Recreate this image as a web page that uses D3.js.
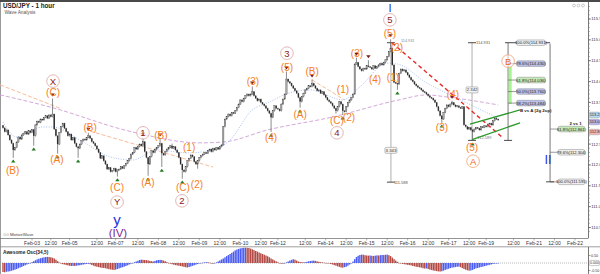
<!DOCTYPE html>
<html><head><meta charset="utf-8">
<script src="https://cdn.jsdelivr.net/npm/d3@7"></script>
<style>body{margin:0;background:#fff;overflow:hidden}svg{display:block;font-family:"Liberation Sans",Arial,sans-serif}</style>
</head><body><svg id="c" width="600" height="274"></svg>
<script>
// ---------- DATA ----------
const firstOpen = 112.95;
const closes = [
112.89,112.80,112.84,112.72,112.60,112.52,112.36,112.42,112.55,112.67,112.62,112.72,
112.76,112.80,112.74,112.82,112.78,112.85,112.70,112.96,113.05,113.02,113.10,113.08,
113.14,113.18,113.12,113.20,113.16,113.22,112.86,112.70,112.50,112.78,112.92,113.00,
112.88,112.80,112.70,112.74,112.60,112.66,112.52,112.44,112.40,112.50,112.58,112.62,
112.60,112.66,112.70,112.64,112.56,112.52,112.46,112.38,112.30,112.16,112.22,112.10,
112.02,111.90,111.94,111.84,111.86,111.92,111.84,111.88,111.90,111.96,111.92,111.98,
112.04,112.10,112.16,112.26,112.30,112.42,112.38,112.44,112.50,112.46,112.56,112.32,
112.18,112.02,112.20,112.34,112.30,112.38,112.42,112.46,112.52,112.28,112.24,112.32,
112.38,112.42,112.46,112.40,112.44,112.36,112.30,112.18,112.02,111.88,111.84,111.96,
112.10,112.16,112.24,112.20,112.08,112.02,112.10,112.18,112.22,112.26,112.30,112.28,
112.34,112.38,112.32,112.40,112.36,112.42,112.38,112.44,112.48,112.92,113.10,113.16,
113.22,113.18,113.26,113.24,113.30,113.38,113.46,113.56,113.52,113.60,113.66,113.70,
113.66,113.70,113.76,113.66,113.60,113.54,113.58,113.50,113.46,113.42,113.36,113.30,
113.24,113.14,113.30,113.42,113.36,113.34,113.30,113.46,113.58,113.70,114.06,114.00,
113.96,113.90,113.84,113.78,113.72,113.62,113.52,113.64,113.72,113.80,113.84,113.90,
113.88,113.96,113.90,113.84,113.78,113.80,113.72,113.76,113.68,113.62,113.56,113.52,
113.48,113.42,113.36,113.30,113.40,113.52,113.46,113.30,113.28,113.40,113.50,113.56,
113.62,113.70,114.42,114.46,114.36,114.30,114.26,114.32,114.30,114.38,114.36,114.34,
114.30,114.38,114.32,114.36,114.40,114.44,114.40,114.46,114.52,114.60,114.72,114.80,
114.40,113.98,113.96,113.94,114.20,114.30,114.26,114.28,114.22,114.16,114.10,114.04,
114.00,113.94,113.90,113.86,113.84,113.80,113.76,113.74,113.70,113.66,113.62,113.60,
113.56,113.50,113.40,113.30,113.18,113.10,113.26,113.36,113.44,113.40,113.46,113.50,
113.44,113.40,113.42,113.38,113.36,113.40,112.96,112.92,112.86,112.90,112.84,112.80,
112.86,112.90,112.88,112.84,112.92,112.90,112.94,112.92,112.98,113.00,112.96,113.06,113.12,113.10,113.08
];
// [bar, high wick, low wick]
const wicks = [[6,null,112.19],[18,null,112.48],[29,113.58,null],[32,null,112.29],[44,null,112.19],[50,112.76,null],
[67,null,111.74],[82,112.64,null],[85,null,111.76],[92,112.62,null],[93,null,111.97],[99,112.50,null],[105,null,111.69],
[114,null,111.93],[146,113.87,null],[157,null,112.81],[166,114.23,null],[174,null,113.39],[181,114.04,null],[195,null,113.25],
[199,null,113.22],[207,114.56,null],[214,114.50,null],[227,115.00,null],[231,null,113.82],[257,null,113.03],[263,113.53,null],[275,null,112.60]];
const pivotLows = [6,18,32,44,67,85,93,105,157,174,199,231,257,275];
const pivotHighs = [29,50,82,92,146,166,181,207,214,227,263];

const aoValues = [
-0.60,-0.62,-0.58,-0.57,-0.55,-0.52,-0.48,-0.45,-0.40,-0.35,-0.30,-0.26,
-0.20,-0.15,-0.10,-0.05,0.00,0.06,0.12,0.18,0.24,0.28,0.32,0.35,
0.38,0.40,0.41,0.40,0.38,0.35,0.30,0.22,0.12,0.03,-0.04,-0.08,
-0.10,-0.13,-0.16,-0.18,-0.20,-0.19,-0.20,-0.18,-0.16,-0.15,-0.12,-0.10,
-0.08,-0.06,-0.05,-0.08,-0.13,-0.18,-0.22,-0.25,-0.27,-0.30,-0.32,-0.33,
-0.35,-0.38,-0.41,-0.43,-0.45,-0.46,-0.44,-0.40,-0.36,-0.32,-0.28,-0.24,
-0.20,-0.15,-0.10,-0.05,0.00,0.05,0.10,0.15,0.20,0.22,0.21,0.20,
0.19,0.17,0.14,0.12,0.10,0.14,0.18,0.20,0.21,0.20,0.16,0.12,
0.06,0.01,-0.04,-0.08,-0.11,-0.14,-0.16,-0.18,-0.20,-0.23,-0.26,-0.28,
-0.30,-0.27,-0.23,-0.19,-0.15,-0.11,-0.07,-0.03,0.00,0.02,0.04,0.05,
0.05,0.02,-0.02,-0.05,-0.01,0.04,0.10,0.17,0.24,0.30,0.38,0.46,
0.53,0.60,0.68,0.76,0.84,0.90,0.94,0.97,1.00,1.01,1.02,1.01,
1.00,0.96,0.91,0.86,0.80,0.76,0.70,0.65,0.60,0.55,0.50,0.45,
0.38,0.30,0.24,0.17,0.11,0.05,0.00,-0.04,-0.05,-0.02,0.04,0.10,
0.16,0.21,0.25,0.22,0.16,0.10,0.07,0.05,0.04,0.05,0.08,0.11,
0.13,0.15,0.16,0.14,0.11,0.08,0.05,0.04,0.02,0.01,0.00,-0.03,
-0.07,-0.10,-0.14,-0.18,-0.22,-0.26,-0.30,-0.31,-0.28,-0.25,-0.18,-0.10,
-0.02,0.10,0.26,0.40,0.48,0.53,0.56,0.55,0.52,0.50,0.49,0.50,
0.48,0.47,0.49,0.51,0.50,0.52,0.54,0.53,0.55,0.56,0.52,0.46,
0.36,0.26,0.16,0.08,0.01,-0.03,-0.06,-0.08,-0.10,-0.12,-0.14,-0.16,
-0.20,-0.22,-0.25,-0.27,-0.29,-0.31,-0.35,-0.37,-0.36,-0.40,-0.44,-0.47,
-0.50,-0.52,-0.54,-0.56,-0.57,-0.55,-0.51,-0.46,-0.42,-0.38,-0.34,-0.31,
-0.29,-0.27,-0.25,-0.24,-0.28,-0.34,-0.40,-0.45,-0.49,-0.51,-0.50,-0.46,
-0.41,-0.36,-0.33,-0.30,-0.27,-0.24,-0.21,-0.18,-0.15,-0.12,-0.09,-0.06,-0.04,-0.02,-0.01
];

const tickIdx = [17,28,39,55,66,79,91,103,115,127,139,151,161,177,189,201,213,225,237,249,261,273,283,299,311,323,335];
const tickLabels = ["Feb-03","12:00","Feb-05","12:00","Feb-07","12:00","Feb-08","12:00","Feb-09","12:00","Feb-10","12:00",
"Feb-12","12:00","Feb-14","12:00","Feb-15","12:00","Feb-16","12:00","Feb-17","12:00","Feb-19","12:00","Feb-21","12:00","Feb-22"];
const priceTicks = [110.5,111.0,111.5,112.0,112.5,113.0,113.5,114.0,114.5,115.0,115.5];
const aoTicks = [0.5,-0.5];

// moving averages (vertices)
const blueMaIdx = [0,8,23,29,47,63,76,90,108,123,133,146,155,168,180,199,209,225,231,248,268,290];
const blueMaVal = [113.03,112.67,112.91,112.91,112.55,112.19,112.12,112.36,112.29,112.36,112.60,113.32,113.49,113.73,113.80,113.56,113.87,114.44,114.42,113.97,113.56,113.12];
const purpleMaIdx = [-1.7,27.5,76,115,129,155,193,232,248,260,290];
const purpleMaVal = [113.68,113.39,112.79,112.53,112.55,112.84,113.15,113.56,113.68,113.63,113.44];
const peachLines = [[[-1.7,113.92],[34,113.35]],[[51,112.81],[123,111.95]],[[181,114.04],[200,113.56]]];

// wave labels
const waveText  = ["(B)","(C)","X","(A)","(B)","(C)","Y","y","(IV)","1","(A)","(B)","(1)","(C)","(2)","2","(3)","(4)","(5)","3","(A)","(B)","(1)","(C)","(2)","4","(3)","(4)","(5)","5","I","(1)","(2)","(3)","(4)","(5)","A","B","II"];
const waveIdx   = [5.6,29.3,29.3,31.6,51,66.8,66.8,66.8,67.3,82,84.9,92.5,109,105.4,113.6,104.8,146.4,157,166.3,166.3,174,181,199.1,195.6,202.6,195.6,207.3,217.9,226.6,226.6,226.6,228.4,230.7,257.1,263.5,274.7,275.3,295.8,319.2];
const wavePrice = [111.88,113.73,114.01,112.14,112.91,111.45,111.11,110.70,110.37,112.77,111.59,112.72,112.41,111.45,111.54,111.14,114.01,112.65,114.35,114.68,113.22,114.25,113.80,113.08,113.13,112.77,114.68,114.04,115.16,115.48,115.76,114.11,114.83,112.89,113.68,112.43,112.09,114.49,112.12];
const waveKind  = ["o","o","c","o","o","o","c","blue","purple","c","o","o","o","o","o","c","o","o","o","c","o","o","o","o","o","c","o","o","o","c","blue1","o","o","o","o","o","oc","oc","blue2"];

// fibonacci & measures
const fibUpperHi = 114.931, fibUpperLo = 112.589;
const fibUpperRatios = [1.0,0.786,0.618,0.5,0.382];
const fibUpperFill = ["#efefef","#b9c1ec","#c3e9b6","#b9c1ec","#b9c1ec"];
const fibLowerStart = 114.909, fibLowerEnd = 111.595;
const fibLowerRatios = [0.618,0.786,1.0];
const fibLowerFill = ["#c3e9b6","#eeeeee","#eeeeee"];
const redLine = [[227.8,114.93],[292.8,112.65]];
const greenLines = [[[273.5,112.98],[302.8,113.32]],[[274.7,112.61],[302.8,113.01]]];
const priceTags = [[113.20,"113.2","#b4dcf6"],[113.03,"113.0","#b8b4f0"],[112.79,"112.8","#f2b8b8"]];

// ---------- DRAW ----------
const svg = d3.select("#c");
const x = d3.scaleLinear().domain([0,335]).range([3,575]);
const y = d3.scaleLinear().domain([110.5,115.5]).range([227.5,19]);
const yAo = d3.scaleLinear().domain([-0.5,0.5]).range([270.5,255.5]);
const AXR = 588.5;

// frame
svg.append("rect").attr("x",0).attr("y",0).attr("width",600).attr("height",274).attr("fill","#fff");
svg.append("rect").attr("x",0).attr("y",0).attr("width",600).attr("height",2).attr("fill","#4a4a4a");
svg.append("line").attr("x1",0.5).attr("x2",0.5).attr("y1",2).attr("y2",274).attr("stroke","#999");

const plot = svg.append("g");
const line = d3.line().x(d=>x(d[0])).y(d=>y(d[1]));

// MAs
plot.append("path").attr("d",d3.line().curve(d3.curveMonotoneX).x(d=>x(d[0])).y(d=>y(d[1]))(purpleMaIdx.map((v,k)=>[v,purpleMaVal[k]])))
  .attr("fill","none").attr("stroke","#d3a9d9").attr("stroke-width",1).attr("stroke-dasharray","4,2");
peachLines.forEach(s=>plot.append("path").attr("d",line(s)).attr("fill","none").attr("stroke","#f7bc98").attr("stroke-width",1).attr("stroke-dasharray","4,2"));
plot.append("path").attr("d",d3.line().curve(d3.curveMonotoneX).x(d=>x(d[0])).y(d=>y(d[1]))(blueMaIdx.map((v,k)=>[v,blueMaVal[k]])))
  .attr("fill","none").attr("stroke","#9cb8f2").attr("stroke-width",0.9).attr("stroke-dasharray","1,1.5");

// measure lines
function vmeasure(i,p1,p2,boxText,boxP){
  plot.append("line").attr("x1",x(i)).attr("x2",x(i)).attr("y1",y(p1)).attr("y2",y(p2)).attr("stroke","#9a9a9a").attr("stroke-width",0.8);
  [p1,p2].forEach(p=>plot.append("line").attr("x1",x(i)-4).attr("x2",x(i)+4).attr("y1",y(p)).attr("y2",y(p)).attr("stroke","#333").attr("stroke-width",0.9));
  if(boxText){
    const g=plot.append("g").attr("transform",`translate(${x(i)},${y(boxP)})`);
    g.append("rect").attr("x",-6).attr("y",-3).attr("width",12).attr("height",6).attr("rx",1).attr("fill","#f4f4f4").attr("stroke","#888").attr("stroke-width",0.5);
    g.append("text").attr("text-anchor","middle").attr("dy","0.35em").attr("font-size",4.3).attr("fill","#333").text(boxText);
  }
}
vmeasure(227.2,114.931,111.588,(114.931-111.588).toFixed(3),112.35);
vmeasure(274.7,114.931,112.589,(114.931-112.589).toFixed(3),113.80);
plot.append("text").attr("x",x(227.2)+3).attr("y",y(111.588)).attr("dy","0.35em").attr("font-size",4).attr("fill","#555").text("111.588");
plot.append("text").attr("x",x(274.7)+4).attr("y",y(114.931)).attr("dy","0.35em").attr("font-size",4).attr("fill","#555").text("114.931");
plot.append("text").attr("x",x(232.5)+1).attr("y",y(114.98)).attr("dy","0.35em").attr("font-size",3.8).attr("fill","#888").text("114.931");
plot.append("text").attr("x",x(276)+3).attr("y",y(112.65)).attr("dy","0.35em").attr("font-size",4).attr("fill","#777").text("112.589");

// candles
const opens = closes.map((c,i)=> i===0 ? firstOpen : closes[i-1]);
const highs = closes.map((c,i)=>Math.max(c,opens[i]));
const lows = closes.map((c,i)=>Math.min(c,opens[i]));
wicks.forEach(([i,h,l])=>{ if(h!=null) highs[i]=h; if(l!=null) lows[i]=l; });
const cg = plot.append("g");
closes.forEach((c,i)=>{
  const o=opens[i], up=c>=o;
  cg.append("line").attr("x1",x(i)).attr("x2",x(i)).attr("y1",y(highs[i])-0.5).attr("y2",y(lows[i])+0.8).attr("stroke","#5a5a5a").attr("stroke-width",0.7);
  const t=y(Math.max(o,c)), b=y(Math.min(o,c));
  cg.append("rect").attr("x",x(i)-0.7).attr("y",t).attr("width",1.4).attr("height",Math.max(1,b-t))
    .attr("fill",up?"#a8a8a8":"#2a2a2a").attr("stroke",up?"#444":"none").attr("stroke-width",0.3);
});

// pivot markers
pivotLows.forEach(i=>{const cx=x(i),cy=y(lows[i])+2.5;
  plot.append("path").attr("d",`M${cx},${cy} L${cx-2.2},${cy+3} L${cx+2.2},${cy+3}Z`).attr("fill","#237a23");});
pivotHighs.forEach(i=>{const cx=x(i),cy=y(highs[i])-2.5;
  plot.append("path").attr("d",`M${cx},${cy} L${cx-2.2},${cy-3} L${cx+2.2},${cy-3}Z`).attr("fill","#7a1e1e");});

// red dashed + green channel
plot.append("path").attr("d",line(redLine)).attr("stroke","#e62a2a").attr("stroke-width",1.4).attr("stroke-dasharray","4,3").attr("fill","none");
greenLines.forEach(s=>plot.append("path").attr("d",line(s)).attr("stroke","#2a9a2a").attr("stroke-width",1.3).attr("fill","none"));

// fib upper
const fuX = 295.8, fuBoxX = 309.2;
plot.append("line").attr("x1",x(294)).attr("x2",x(320.4)).attr("y1",y(fibUpperHi)).attr("y2",y(fibUpperHi)).attr("stroke","#333").attr("stroke-width",0.9);
plot.append("line").attr("x1",x(fuX)).attr("x2",x(fuX)).attr("y1",y(fibUpperHi)).attr("y2",y(fibUpperLo)).attr("stroke","#555").attr("stroke-width",0.8);
plot.append("line").attr("x1",x(fuX)-4).attr("x2",x(fuX)+4).attr("y1",y(fibUpperLo)).attr("y2",y(fibUpperLo)).attr("stroke","#333").attr("stroke-width",0.9);
plot.append("rect").attr("x",x(fuX)+0.6).attr("y",y(114.35)).attr("width",3).attr("height",y(113.46)-y(114.35)).attr("fill","#a6f58f");
fibUpperRatios.forEach((r,k)=>{
  const p=fibUpperLo+r*(fibUpperHi-fibUpperLo), yy=y(p);
  if(k>0) plot.append("line").attr("x1",x(fuX)).attr("x2",x(fuBoxX)-14).attr("y1",yy).attr("y2",yy).attr("stroke","#555").attr("stroke-width",0.6);
  const g=plot.append("g").attr("transform",`translate(${x(fuBoxX)},${yy})`);
  g.append("rect").attr("x",-14.5).attr("y",-2.8).attr("width",29).attr("height",5.6).attr("rx",2).attr("fill",fibUpperFill[k]).attr("stroke","#8a8a8a").attr("stroke-width",0.5);
  g.append("text").attr("text-anchor","middle").attr("dy","0.36em").attr("font-size",4.2).attr("fill","#222").text(`${(r*100).toFixed(1)}%(${p.toFixed(3)})`);
});
plot.append("text").attr("x",x(fuBoxX)-11).attr("y",y(113.31)).attr("dy","0.35em").attr("font-size",4.4).attr("font-weight","bold").attr("fill","#222").text("B vs A (2g 2up)");

// fib lower
const flX = 320.4, flBoxX = 332.9;
plot.append("line").attr("x1",x(flX)).attr("x2",x(flX)).attr("y1",y(fibLowerStart)).attr("y2",y(fibLowerEnd)).attr("stroke","#555").attr("stroke-width",0.8);
plot.append("line").attr("x1",x(flX)-4).attr("x2",x(flX)+4).attr("y1",y(fibLowerEnd)).attr("y2",y(fibLowerEnd)).attr("stroke","#333").attr("stroke-width",0.9);
fibLowerRatios.forEach((r,k)=>{
  const p=fibLowerStart-r*(fibLowerStart-fibLowerEnd), yy=y(p);
  plot.append("line").attr("x1",x(flX)).attr("x2",x(flBoxX)-13.5).attr("y1",yy).attr("y2",yy).attr("stroke","#555").attr("stroke-width",0.6);
  const g=plot.append("g").attr("transform",`translate(${x(flBoxX)},${yy})`);
  g.append("rect").attr("x",-13.5).attr("y",-2.8).attr("width",27).attr("height",5.6).attr("rx",2).attr("fill",fibLowerFill[k]).attr("stroke","#8a8a8a").attr("stroke-width",0.5);
  g.append("text").attr("text-anchor","middle").attr("dy","0.36em").attr("font-size",4.1).attr("fill","#222").text(`${(r*100).toFixed(1)}%(${p.toFixed(3)})`);
});
plot.append("text").attr("x",x(flBoxX)-2).attr("y",y(112.99)).attr("dy","0.35em").attr("font-size",4.4).attr("font-weight","bold").attr("fill","#222").text("2 vs 1");

// wave labels
waveText.forEach((t,k)=>{
  const cx=x(waveIdx[k]), cy=y(wavePrice[k]), kind=waveKind[k];
  if(kind==="c"||kind==="oc"){
    plot.append("circle").attr("cx",cx).attr("cy",cy).attr("r",6.3).attr("fill","#fff").attr("fill-opacity",0.6)
      .attr("stroke",kind==="c"?"#dba3a3":"#f0a070").attr("stroke-width",0.8);
  }
  const tx=plot.append("text").attr("x",cx).attr("y",cy).attr("text-anchor","middle").attr("dy","0.36em").text(t);
  if(kind==="o") tx.attr("font-size",10).attr("fill","#f57d22");
  else if(kind==="c") tx.attr("font-size",9.5).attr("fill","#8b1c1c");
  else if(kind==="oc") tx.attr("font-size",9.5).attr("fill","#e8661a");
  else if(kind==="blue") tx.attr("font-size",15).attr("fill","#2430e0");
  else if(kind==="blue1") tx.attr("font-size",11).attr("fill","#2430e0");
  else if(kind==="blue2") tx.attr("font-size",12).attr("fill","#2430e0").attr("font-family","'DejaVu Sans'");
  else if(kind==="purple") tx.attr("font-size",11.5).attr("fill","#7d2a8f");
});

// right axis
svg.append("line").attr("x1",AXR).attr("x2",AXR).attr("y1",2).attr("y2",238).attr("stroke","#555").attr("stroke-width",0.8);
d3.range(110.4,115.81,0.1).forEach(p=>svg.append("line").attr("x1",AXR).attr("x2",AXR+1.5).attr("y1",y(p)).attr("y2",y(p)).attr("stroke","#777").attr("stroke-width",0.5));
priceTicks.forEach(p=>{
  svg.append("line").attr("x1",AXR).attr("x2",AXR+2.5).attr("y1",y(p)).attr("y2",y(p)).attr("stroke","#444").attr("stroke-width",0.6);
  const covered = priceTags.some(([tp])=>Math.abs(y(tp)-y(p))<6);
  if(!covered) svg.append("text").attr("x",AXR+2.8).attr("y",y(p)).attr("dy","0.35em").attr("font-size",4.2).attr("fill","#333").text(p.toFixed(1));
});
priceTags.forEach(([p,t,c])=>{
  svg.append("rect").attr("x",AXR+0.5).attr("y",y(p)-2.8).attr("width",10.8).attr("height",5.6).attr("rx",1.5).attr("fill",c).attr("stroke","#888").attr("stroke-width",0.4);
  svg.append("text").attr("x",AXR+1.3).attr("y",y(p)).attr("dy","0.35em").attr("font-size",4).attr("fill","#222").text(t);
});
// icons
[578,582.5,587].forEach(cx=>svg.append("circle").attr("cx",cx-4).attr("cy",5.5).attr("r",1.4).attr("fill","none").attr("stroke","#aaa").attr("stroke-width",0.6));

// title
svg.append("text").attr("x",3).attr("y",7.5).attr("font-size",6.3).attr("font-weight","bold").attr("fill","#222").text("USD/JPY - 1 hour");
svg.append("text").attr("x",4.5).attr("y",14).attr("font-size",4.8).attr("fill","#555").text("Wave Analysis");
svg.append("text").attr("x",10).attr("y",236).attr("font-size",4.3).attr("fill","#444").text("MotiveWave");
svg.append("text").attr("x",3).attr("y",236).attr("font-size",4.3).attr("fill","#999").text("⊙⊙");

// date axis
svg.append("line").attr("x1",0).attr("x2",AXR).attr("y1",238.5).attr("y2",238.5).attr("stroke","#666").attr("stroke-width",0.7);
tickIdx.forEach((t,k)=>{
  svg.append("line").attr("x1",x(t)).attr("x2",x(t)).attr("y1",238.5).attr("y2",240.5).attr("stroke","#666").attr("stroke-width",0.5);
  svg.append("text").attr("x",x(t)).attr("y",244.5).attr("text-anchor","middle").attr("font-size",5).attr("fill","#333").text(tickLabels[k]);
});
svg.append("line").attr("x1",0).attr("x2",600).attr("y1",246.8).attr("y2",246.8).attr("stroke","#888").attr("stroke-width",0.8);

// AO panel
svg.append("text").attr("x",3).attr("y",253.5).attr("font-size",4.8).attr("font-weight","bold").attr("fill","#222").text("Awesome Osc(34,5)");
svg.append("line").attr("x1",2).attr("x2",AXR).attr("y1",yAo(0)).attr("y2",yAo(0)).attr("stroke","#777").attr("stroke-width",0.5).attr("stroke-dasharray","1,1");
aoValues.forEach((v,i)=>{
  const up = i===0 ? false : v>aoValues[i-1];
  const y0=yAo(0), y1=yAo(v);
  svg.append("rect").attr("x",x(i)-0.7).attr("width",1.4).attr("y",Math.min(y0,y1)).attr("height",Math.max(0.5,Math.abs(y1-y0)))
    .attr("fill",up?"#4a5cf2":"#b34a45");
});
svg.append("line").attr("x1",AXR).attr("x2",AXR).attr("y1",247).attr("y2",274).attr("stroke","#555").attr("stroke-width",0.8);
aoTicks.forEach(v=>{
  svg.append("line").attr("x1",AXR).attr("x2",AXR+2).attr("y1",yAo(v)).attr("y2",yAo(v)).attr("stroke","#444").attr("stroke-width",0.5);
  svg.append("text").attr("x",AXR+2.5).attr("y",yAo(v)).attr("dy","0.35em").attr("font-size",3.6).attr("fill","#333").text(v.toFixed(2));
});
svg.append("rect").attr("x",AXR+0.5).attr("y",yAo(0)-2.6).attr("width",10.5).attr("height",5.2).attr("rx",1.5).attr("fill","#fff").attr("stroke","#777").attr("stroke-width",0.4);
svg.append("text").attr("x",AXR+1.5).attr("y",yAo(0)).attr("dy","0.35em").attr("font-size",3.6).attr("fill","#333").text("0.000");
</script></body></html>
